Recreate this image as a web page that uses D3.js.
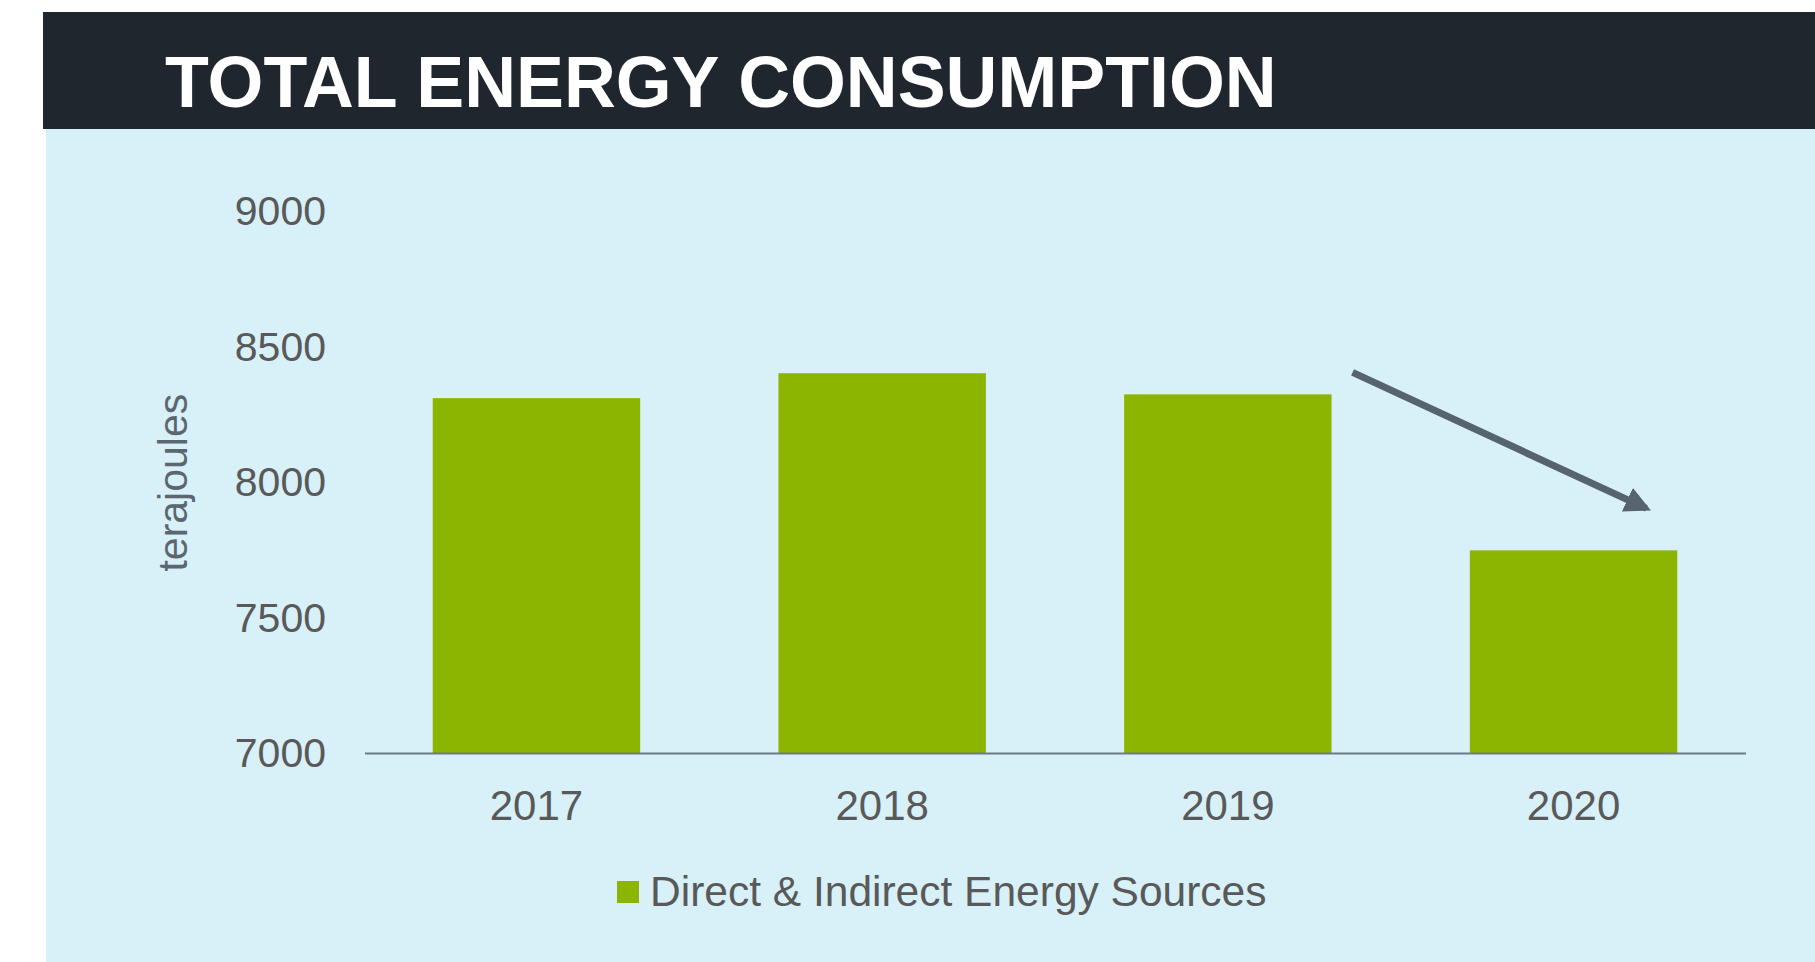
<!DOCTYPE html>
<html>
<head>
<meta charset="utf-8">
<script src="https://cdn.jsdelivr.net/npm/d3@7"></script>
<style>
  html, body { margin: 0; padding: 0; background: #ffffff; }
  svg { display: block; }
  text { font-family: "Liberation Sans", Arial, Helvetica, sans-serif; }
</style>
</head>
<body>
<svg id="chart" width="1815" height="962"></svg>
<script>
// ---- data ----
const title = "TOTAL ENERGY CONSUMPTION";
const years = ["2017", "2018", "2019", "2020"];
const energyValues = [8312, 8404, 8326, 7750];
const yTicks = [7000, 7500, 8000, 8500, 9000];
const seriesName = "Direct & Indirect Energy Sources";
const yLabel = "terajoules";

// ---- layout ----
const W = 1815, H = 962;
const svg = d3.select("#chart");

// background panels
svg.append("rect").attr("x", 46).attr("y", 128).attr("width", W - 46).attr("height", H - 128)
  .attr("fill", "#d8f0f8");
svg.append("rect").attr("x", 43).attr("y", 12).attr("width", W - 43).attr("height", 117)
  .attr("fill", "#1f262e");
svg.append("text").attr("x", 165).attr("y", 107)
  .attr("fill", "#ffffff").attr("font-size", 71.8).attr("font-weight", "bold")
  .text(title);

const plot = { left: 363.6, right: 1746.4, top: 211.8, bottom: 753.5, axisL: 365, axisR: 1746 };

const x = d3.scaleBand().domain(years).range([plot.left, plot.right]).paddingInner(0.4).paddingOuter(0.2);
const y = d3.scaleLinear().domain([7000, 9000]).range([plot.bottom, plot.top]);

// bars
svg.append("g").selectAll("rect").data(years).join("rect")
  .attr("x", d => x(d))
  .attr("width", x.bandwidth())
  .attr("y", (d, i) => y(energyValues[i]))
  .attr("height", (d, i) => y(7000) - y(energyValues[i]))
  .attr("fill", "#8bb500");

// y axis (labels only)
const yAxis = svg.append("g").attr("transform", `translate(${plot.axisL},0)`)
  .call(d3.axisLeft(y).tickValues(yTicks).tickSize(0).tickPadding(39).tickFormat(d3.format("d")));
yAxis.select(".domain").remove();
yAxis.selectAll("text").attr("font-size", 41).attr("fill", "#595959")
  .attr("font-family", "\"Liberation Sans\", Arial, sans-serif");

// x axis
const xAxis = svg.append("g").attr("transform", `translate(0,${plot.bottom})`)
  .call(d3.axisBottom(x).tickSize(0).tickPadding(36));
xAxis.select(".domain").attr("stroke", "#6b7a86").attr("stroke-width", 2)
  .attr("d", `M${plot.axisL},0H${plot.axisR}`);
xAxis.selectAll("text").attr("font-size", 42).attr("fill", "#595959")
  .attr("font-family", "\"Liberation Sans\", Arial, sans-serif")
  .attr("dy", "0");
xAxis.selectAll(".tick text").attr("y", 66);

// y axis title
svg.append("text")
  .attr("transform", `translate(187,${(plot.top + plot.bottom) / 2 + 0}) rotate(-90)`)
  .attr("text-anchor", "middle")
  .attr("font-size", 41).attr("fill", "#5b6770")
  .text(yLabel);

// trend arrow annotation (from 2019 toward 2020)
const defs = svg.append("defs");
defs.append("marker").attr("id", "arrowhead")
  .attr("viewBox", "0 0 10 10").attr("refX", 8).attr("refY", 5)
  .attr("markerUnits", "userSpaceOnUse")
  .attr("markerWidth", 26).attr("markerHeight", 26).attr("orient", "auto")
  .append("path").attr("d", "M0,0L10,5L0,10Z").attr("fill", "#56646f");
const ax1 = x("2019") + x.bandwidth() + 21;
const ay1 = y(8407);
const ax2 = x("2020") + x.bandwidth() - 31;
const ay2 = y(7905);
svg.append("line")
  .attr("x1", ax1).attr("y1", ay1).attr("x2", ax2).attr("y2", ay2)
  .attr("stroke", "#56646f").attr("stroke-width", 7)
  .attr("marker-end", "url(#arrowhead)");

// legend
const legend = svg.append("g");
legend.append("rect").attr("x", 617).attr("y", 881).attr("width", 22).attr("height", 22).attr("fill", "#8bb500");
legend.append("text").attr("x", 650).attr("y", 906).attr("font-size", 42.5).attr("fill", "#595959")
  .text(seriesName);
</script>
</body>
</html>
